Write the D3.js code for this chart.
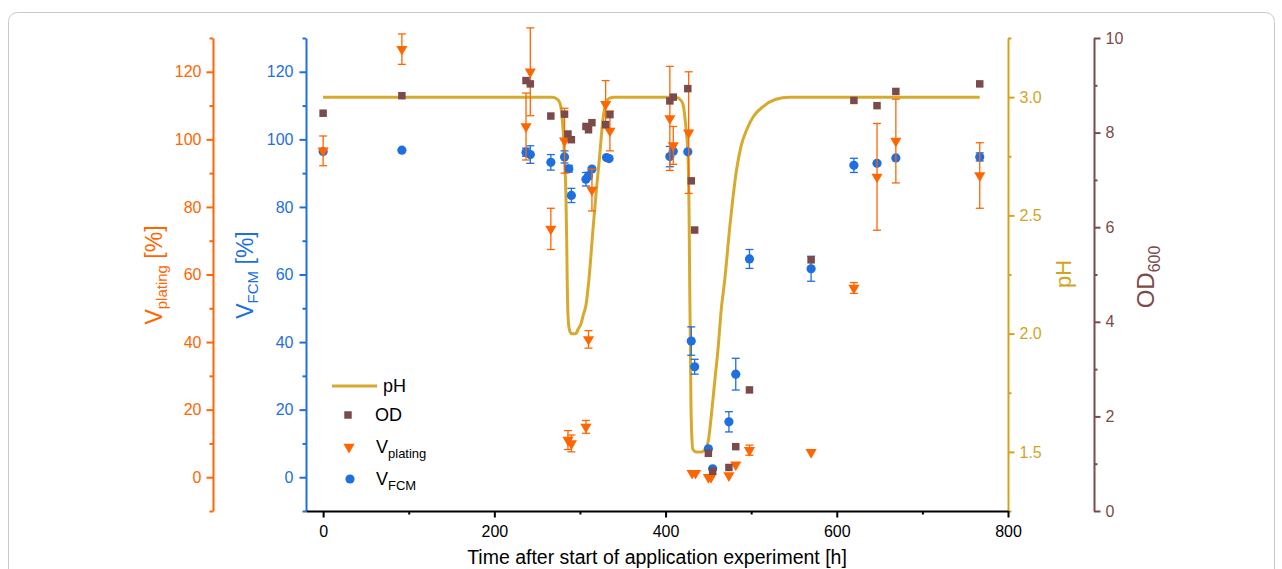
<!DOCTYPE html>
<html><head><meta charset="utf-8">
<script src="https://cdn.jsdelivr.net/npm/d3@7"></script>
<style>
html,body{margin:0;padding:0;background:#fff;}
svg{display:block;font-family:"Liberation Sans",Arial,sans-serif;}
</style></head>
<body>
<svg id="c" width="1282" height="569"></svg>
<script>
// ---- data ----
const xTicks = [0, 200, 400, 600, 800];
const xMinor = [100, 300, 500, 700];
const vTicks = [0, 20, 40, 60, 80, 100, 120];
const vMinor = [-10, 10, 30, 50, 70, 90, 110, 130];
const phTicks = [1.5, 2.0, 2.5, 3.0];
const phMinor = [1.25, 1.75, 2.25, 2.75, 3.25];
const odTicks = [0, 2, 4, 6, 8, 10];
const odMinor = [1, 3, 5, 7, 9];

const phTime = [0, 268, 274, 277, 279.5, 281, 282.5, 283.5, 284.5, 285.2, 286, 287.5, 290, 295, 298, 301, 304, 307, 310.5, 315, 319, 323, 327, 330, 334, 340,
  412, 417, 420.4, 423, 426.3, 427.5, 428.3, 429, 429.6, 430.5, 432, 436, 442, 447.8, 450.5, 453.6, 457.5, 461.4, 465, 469.2, 475, 482.8, 488, 494.5, 503, 513.9, 528, 545, 767];
const phVal = [3.0, 3.0, 2.99, 2.97, 2.9, 2.82, 2.7, 2.6, 2.4, 2.2, 2.08, 2.02, 2.0, 2.0, 2.02, 2.04, 2.08, 2.12, 2.23, 2.43, 2.6, 2.75, 2.91, 2.97, 2.995, 3.0,
  3.0, 2.99, 2.97, 2.9, 2.74, 2.5, 2.17, 1.95, 1.72, 1.58, 1.51, 1.5, 1.5, 1.52, 1.56, 1.66, 1.8, 1.94, 2.1, 2.23, 2.45, 2.69, 2.79, 2.86, 2.92, 2.96, 2.99, 3.0, 3.0];

const odTime = [0, 92, 237, 242, 266, 282, 286, 290, 307, 310, 314, 330, 335, 405, 409, 426, 430, 434, 450, 455, 474, 482, 498, 570, 620, 647, 669, 767];
const odVal = [8.41, 8.78, 9.10, 9.03, 8.35, 8.39, 7.97, 7.85, 8.13, 8.06, 8.21, 8.17, 8.38, 8.67, 8.75, 8.93, 6.98, 5.94, 1.22, 0.84, 0.92, 1.36, 2.56, 5.31, 8.68, 8.57, 8.87, 9.03];

const platTime = [0, 92, 237, 242, 266, 282, 286, 290, 307, 310, 314, 330, 335, 405, 409, 427, 431, 435, 450, 453, 474, 482, 498, 570, 620, 647, 669, 767];
const platVal = [96.6, 126.7, 103.8, 120.0, 73.5, 99.6, 11.0, 10.0, 14.9, 40.8, 85.0, 110.4, 102.5, 106.2, 98.2, 102.0, 1.2, 1.2, 0.0, 0.0, 0.5, 3.7, 8.0, 7.4, 56.0, 88.9, 99.5, 89.3];
const platErr = [4.4, 4.5, 9.9, 13, 6.1, 9.6, 2.8, 2.5, 1.9, 2.6, 6.2, 7, 5.9, 15.4, 5.6, 18, 0, 0, 0, 0, 0, 0, 1.5, 0, 1.6, 15.8, 12.4, 9.7];

const fcmTime = [0, 92, 237, 242, 266, 282, 287, 290, 307, 310, 314, 331, 334, 405, 409, 426, 430, 434, 450, 455, 474, 482, 498, 570, 620, 647, 669, 767];
const fcmVal = [96.4, 96.8, 96.2, 95.5, 93.2, 94.8, 91.3, 83.4, 88.2, 89.2, 91.2, 94.6, 94.3, 94.9, 96.5, 96.3, 40.3, 32.7, 8.4, 2.5, 16.4, 30.5, 64.6, 61.7, 92.3, 92.9, 94.5, 94.8];
const fcmErr = [0, 0, 1.2, 2.6, 2.3, 1.8, 1.0, 2.1, 2.0, 1.0, 0, 0, 0, 3.0, 0, 0, 4.2, 2.2, 0, 0, 3.0, 4.7, 2.8, 3.7, 2.1, 0, 0, 1.2];

// ---- colours ----
const cOrange = "#FF6600", cBlue = "#1E6FE0", cGold = "#D4A31E", cLine = "#D7AA2E", cBrown = "#7B4A4A";

const svg = d3.select("#c");
const L = 306, R = 1008, T = 38, B = 511;

// frame
svg.append("rect").attr("x", 8.5).attr("y", 12.5).attr("width", 1266).attr("height", 600)
  .attr("rx", 9).attr("fill", "none").attr("stroke", "#c9c9c9").attr("stroke-width", 1);

const x = d3.scaleLinear().domain([-20, 800]).range([L, R]);
const yV = d3.scaleLinear().domain([-10, 130]).range([B, T]);
const yPH = d3.scaleLinear().domain([1.25, 3.25]).range([B, T]);
const yOD = d3.scaleLinear().domain([0, 10]).range([B, T]);

function styleAxis(g, color, fs) {
  g.selectAll("path").attr("stroke", color).attr("stroke-width", 2);
  g.selectAll("line").attr("stroke", color).attr("stroke-width", 2);
  g.selectAll("text").attr("fill", color).style("font-size", fs + "px").style("font-family", "'Liberation Sans',Arial,sans-serif");
}
function addAxis(axisFn, scale, pos, major, minor, color, fmt, padding) {
  const gm = svg.append("g").attr("transform", pos)
    .call(axisFn(scale).tickValues(minor).tickSize(3.5).tickSizeOuter(0).tickFormat(""));
  styleAxis(gm, color, 16);
  gm.select("path").remove();
  const g = svg.append("g").attr("transform", pos)
    .call(axisFn(scale).tickValues(major).tickSize(6.5).tickSizeOuter(0).tickPadding(padding).tickFormat(fmt));
  styleAxis(g, color, 16);
  return g;
}

// axes
const orangeAxisX = 213;
addAxis(d3.axisLeft, yV, `translate(${orangeAxisX},0)`, vTicks, vMinor, cOrange, d3.format("d"), 5);
addAxis(d3.axisLeft, yV, `translate(${L},0)`, vTicks, vMinor, cBlue, d3.format("d"), 6);
addAxis(d3.axisRight, yPH, `translate(${R},0)`, phTicks, phMinor, cGold, d3.format(".1f"), 5);
addAxis(d3.axisRight, yOD, `translate(1094,0)`, odTicks, odMinor, cBrown, d3.format("d"), 5);
const gx = addAxis(d3.axisBottom, x, `translate(0,${B})`, xTicks, xMinor, "#000", d3.format("d"), 6);
gx.selectAll("text").attr("dy", "0.85em");

// axis titles
function title(tx, ty, parts, color) {
  const t = svg.append("text").attr("transform", `translate(${tx},${ty}) rotate(-90)`)
    .attr("text-anchor", "middle").attr("fill", color);
  parts.forEach(p => {
    const s = t.append("tspan").text(p.t).style("font-size", p.fs + "px");
    if (p.dy) s.attr("dy", p.dy);
  });
  return t;
}
title(162, 275, [{t: "V", fs: 23}, {t: "plating", fs: 15, dy: 5}, {t: " [%]", fs: 23, dy: -5}], cOrange);
title(253, 275, [{t: "V", fs: 23}, {t: "FCM", fs: 15, dy: 5}, {t: " [%]", fs: 23, dy: -5}], cBlue);
title(1071, 274, [{t: "pH", fs: 22}], cGold);
title(1154, 277, [{t: "OD", fs: 24}, {t: "600", fs: 16, dy: 6}], cBrown);
svg.append("text").attr("x", (L + R) / 2 + 0).attr("y", 564).attr("text-anchor", "middle")
  .style("font-size", "19.5px").attr("fill", "#000").text("Time after start of application experiment [h]");

// pH line
const phData = phTime.map((t, i) => ({t, v: phVal[i]}));
svg.append("path").datum(phData)
  .attr("d", d3.line().x(d => x(d.t)).y(d => yPH(d.v)).curve(d3.curveMonotoneX))
  .attr("fill", "none").attr("stroke", cLine).attr("stroke-width", 3);

// error bars
function errBars(times, vals, errs, color) {
  const g = svg.append("g").attr("stroke", color).attr("stroke-width", 1.3);
  times.forEach((t, i) => {
    if (!errs[i]) return;
    const cx = x(t), y1 = yV(vals[i] - errs[i]), y2 = yV(vals[i] + errs[i]);
    g.append("line").attr("x1", cx).attr("x2", cx).attr("y1", y1).attr("y2", y2);
    g.append("line").attr("x1", cx - 4).attr("x2", cx + 4).attr("y1", y1).attr("y2", y1);
    g.append("line").attr("x1", cx - 4).attr("x2", cx + 4).attr("y1", y2).attr("y2", y2);
  });
}

// V_FCM
errBars(fcmTime, fcmVal, fcmErr, cBlue);
svg.append("g").selectAll("circle").data(fcmTime).join("circle")
  .attr("cx", d => x(d)).attr("cy", (d, i) => yV(fcmVal[i])).attr("r", 4.6).attr("fill", cBlue);

// V_plating
errBars(platTime, platVal, platErr, cOrange);
const tri = d3.symbol().type(d3.symbolTriangle).size(54);
svg.append("g").selectAll("path").data(platTime).join("path")
  .attr("d", tri).attr("fill", cOrange)
  .attr("transform", (d, i) => `translate(${x(d)},${yV(platVal[i])}) rotate(180)`);

// OD
const sq = d3.symbol().type(d3.symbolSquare).size(56);
svg.append("g").selectAll("path").data(odTime).join("path")
  .attr("d", sq).attr("fill", cBrown)
  .attr("transform", (d, i) => `translate(${x(d)},${yOD(odVal[i])})`);

// legend
const lg = svg.append("g").style("font-size", "18px").attr("fill", "#000");
lg.append("line").attr("x1", 332).attr("x2", 377).attr("y1", 386).attr("y2", 386).attr("stroke", cLine).attr("stroke-width", 3);
lg.append("text").attr("x", 383).attr("y", 392).text("pH");
lg.append("path").attr("d", sq).attr("fill", cBrown).attr("transform", "translate(348,415)");
lg.append("text").attr("x", 375).attr("y", 421).text("OD");
lg.append("path").attr("d", tri).attr("fill", cOrange).attr("transform", "translate(349,447) rotate(180)");
const t3 = lg.append("text").attr("x", 376).attr("y", 453);
t3.append("tspan").text("V");
t3.append("tspan").text("plating").attr("dy", 5).style("font-size", "13px");
lg.append("circle").attr("cx", 350).attr("cy", 479).attr("r", 4.6).attr("fill", cBlue);
const t4 = lg.append("text").attr("x", 376).attr("y", 485);
t4.append("tspan").text("V");
t4.append("tspan").text("FCM").attr("dy", 5).style("font-size", "13px");
</script>
</body></html>
